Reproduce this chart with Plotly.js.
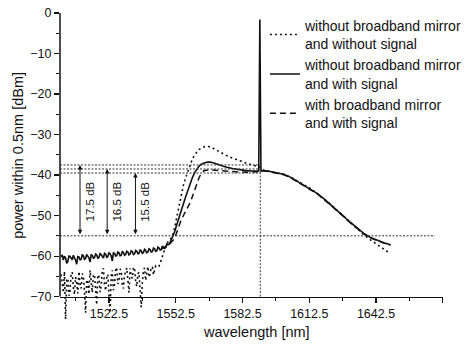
<!DOCTYPE html>
<html>
<head>
<meta charset="utf-8">
<script src="https://cdn.plot.ly/plotly-3.0.1.min.js"></script>
<style>html,body{margin:0;padding:0;background:#fff;}#chart{width:475px;height:345px;}</style>
</head>
<body>
<div id="chart"></div>
<script>
// ---- data ----
const seriesNames = [
  "without broadband mirror<br>and without signal",
  "without broadband mirror<br>and with signal",
  "with broadband mirror<br>and with signal"
];

// dotted: without mirror, without signal
const wlNoSignal = [
  1501,1501.5,1502,1502.5,1503,1503.5,1504,1504.5,1505,1505.5,
  1506,1506.5,1507,1507.5,1508,1508.5,1509,1509.5,1510,1510.5,
  1511,1511.5,1512,1512.5,1513,1513.5,1514,1514.5,1515,1515.5,
  1516,1516.5,1517,1517.5,1518,1518.5,1519,1519.5,1520,1520.5,
  1521,1521.5,1522,1522.5,1523,1523.5,1524,1524.5,1525,1525.5,
  1526,1526.5,1527,1527.5,1528,1528.5,1529,1529.5,1530,1530.5,
  1531,1531.5,1532,1532.5,1533,1533.5,1534,1534.5,1535,1535.5,
  1536,1536.5,1537,1537.5,1538,1538.5,1539,1539.5,1540,1540.5,
  1541,1541.5,1542,1542.5,1543,1543.5,1544,
  1545,1546,1547,1548,1549,1550,1551,1552,1553,1554,1555,1556,1557,1558,1559,1560,1561,1562,1563,1564,1566,1568,1570,1572,
  1575,1578,1581,1584,1587,1590,1592,1595,1598,1601,1604,1607,1610,1613,1616,1619,1622,1625,1628,1631,1634,1637,1640,1643,1646,1649];
const pNoSignal = [
  -64.5,-67.5,-69.0,-63.8,-75.6,-66.0,-65.5,-69.8,-68.5,-64.2,
  -64.0,-67.8,-69.5,-65.2,-66.5,-69.2,-63.8,-66.8,-68.0,-64.3,
  -65.0,-68.6,-74.0,-65.8,-66.5,-69.4,-63.5,-66.2,-69.0,-64.8,
  -64.5,-68.2,-72.0,-64.6,-65.0,-68.9,-67.5,-63.6,-63.0,-67.0,
  -68.5,-65.3,-64.5,-69.6,-74.0,-64.9,-63.5,-68.4,-67.0,-63.4,
  -62.8,-66.9,-66.0,-63.2,-63.5,-67.3,-68.0,-64.6,-64.0,-62.9,
  -66.5,-69.0,-63.0,-65.0,-65.5,-63.0,-62.8,-66.4,-67.5,-64.4,
  -64.0,-68.5,-72.6,-66.5,-63.5,-62.9,-66.0,-64.2,-62.6,-65.2,
  -64.5,-62.7,-62.8,-64.6,-63.5,-62.4,-62.6,
  -62.5,-61.0,-59.3,-57.6,-56.5,-55.7,-55.2,-53.0,-50.3,-47.3,-44.4,-42.4,-40.6,-39.0,-37.3,-36.0,-35.0,-34.3,-33.7,-33.3,-32.9,-33.0,-33.6,-34.3,
  -35.1,-35.8,-36.5,-37.0,-37.5,-38.0,-38.8,-39.1,-39.4,-39.8,-40.5,-41.4,-42.3,-43.3,-44.5,-45.8,-47.2,-48.7,-50.2,-51.8,-53.3,-54.7,-56.0,-57.2,-58.3,-59.4];

// solid: without mirror, with signal
const wlSignal = [
  1501,1501.5,1502,1502.5,1503,1503.5,1504,1504.5,1505,1505.5,
  1506,1506.5,1507,1507.5,1508,1508.5,1509,1509.5,1510,1510.5,
  1511,1511.5,1512,1512.5,1513,1513.5,1514,1514.5,1515,1515.5,
  1516,1516.5,1517,1517.5,1518,1518.5,1519,1519.5,1520,1520.5,
  1521,1521.5,1522,1522.5,1523,1523.5,1524,1524.5,1525,1525.5,
  1526,1526.5,1527,1527.5,1528,1528.5,1529,1529.5,1530,1530.5,
  1531,1531.5,1532,1532.5,1533,1533.5,1534,1534.5,1535,1535.5,
  1536,1536.5,1537,1537.5,1538,1538.5,1539,1539.5,1540,1540.5,
  1541,1541.5,1542,1542.5,1543,1543.5,1544,1544.5,1545,1545.5,
  1546,1546.5,1547,1547.5,1548,1548.5,1549,1549.5,1550,
  1551,1552,1553,1554,1555,1556,1557,1558,1559,1560,1561,1562,1563,1564,1565,1566,1567,1568,1570,1572,
  1575,1578,1581,1584,1587,1589.8,1590.3,1590.8,1592,1595,1598,1601,1604,1607,1610,1613,1616,1619,1622,1625,1628,1631,1634,1637,1640,1643,1646,1649];
const pSignal = [
  -60.2,-59.7,-61.0,-60.0,-60.4,-61.8,-61.3,-60.0,-60.1,-60.7,
  -60.9,-59.8,-60.3,-61.0,-62.0,-60.1,-60.2,-60.9,-60.8,-59.7,
  -59.9,-60.8,-60.6,-59.6,-60.0,-60.4,-61.5,-59.7,-59.8,-60.5,
  -60.4,-59.5,-59.7,-60.6,-60.3,-59.4,-59.6,-60.2,-60.5,-59.3,
  -59.5,-60.3,-60.1,-59.2,-59.4,-60.0,-61.2,-59.2,-59.3,-60.0,
  -59.9,-59.0,-59.2,-59.9,-59.8,-58.9,-59.1,-59.8,-59.6,-58.8,
  -59.0,-59.7,-59.5,-58.7,-58.9,-59.6,-59.4,-58.6,-58.8,-59.4,
  -59.3,-58.5,-58.7,-59.3,-59.1,-58.3,-58.6,-59.2,-59.0,-58.2,
  -58.4,-59.0,-58.9,-58.0,-58.2,-58.8,-58.7,-57.8,-58.0,-58.5,
  -58.4,-57.5,-57.7,-58.1,-57.9,-57.0,-57.2,-57.1,-56.6,
  -55.5,-54.0,-52.2,-50.3,-48.6,-47.0,-45.3,-43.6,-42.0,-40.6,-39.4,-38.5,-37.8,-37.3,-37.0,-36.9,-36.8,-36.8,-37.1,-37.5,
  -38.0,-38.4,-38.7,-38.9,-39.0,-39.0,-1.6,-39.0,-38.9,-39.1,-39.5,-39.8,-40.5,-41.5,-42.3,-43.3,-44.5,-45.8,-47.2,-48.7,-50.2,-51.7,-53.1,-54.4,-55.4,-56.1,-56.7,-57.2];

// dashed: with mirror, with signal
const wlMirror = [1546,1547,1548,1549,1550,1551,1552,1553,1554,1555,1556,1557,1558,1559,1560,1561,1562,1563,1564,1565,1566,1568,1572,1576,1580,1584,1588,1590,
  1592,1595,1598,1601,1604,1607,1610,1613,1616,1619,1622,1625,1628,1631,1634,1637,1640,1643,1646,1649];
const pMirror = [-58.3,-57.9,-57.7,-57.4,-56.9,-56.3,-55.6,-54.3,-52.6,-51.0,-50.0,-49.0,-48.0,-46.8,-45.3,-43.7,-42.1,-40.6,-39.6,-39.0,-38.8,-38.7,-38.9,-39.1,-39.2,-39.3,-39.3,-39.2,
  -38.9,-39.2,-39.6,-39.9,-40.6,-41.6,-42.4,-43.4,-44.6,-45.9,-47.3,-48.8,-50.3,-51.8,-53.2,-54.5,-55.5,-56.2,-56.8,-57.3];

// annotation values
const floorLevel = -55;               // dBm
const gainDiffs = [17.5, 16.5, 15.5]; // dB
const signalWl = 1590.5;              // nm

// axis ticks
const xTickVals = [1522.5, 1552.5, 1582.5, 1612.5, 1642.5, 1672.5];
const xTickText = ["1522.5", "1552.5", "1582.5", "1612.5", "1642.5", ""];
const xMinorVals = [1507.5, 1537.5, 1567.5, 1597.5, 1627.5, 1657.5];
const yTickVals = [0, -10, -20, -30, -40, -50, -60, -70];
const yMinorVals = [-5, -15, -25, -35, -45, -55, -65];

// ---- layout / styling ----
const FONT = "Liberation Sans, Arial, Helvetica, sans-serif";
const INK = "#111";
const yMin = -77.5, yAxisBottom = -70;
const arrowX = [1509.5, 1521.7, 1534.4];

const traces = [
  {x: wlNoSignal, y: pNoSignal, name: seriesNames[0], mode: "lines",
   line: {color: INK, width: 1.6, dash: "2px,3px"}},
  {x: wlSignal, y: pSignal, name: seriesNames[1], mode: "lines",
   line: {color: INK, width: 1.6}},
  {x: wlMirror, y: pMirror, name: seriesNames[2], mode: "lines",
   line: {color: INK, width: 1.5, dash: "6px,4px"}}
];

const shapes = [];
shapes.push({type: "line", xref: "paper", yref: "y", x0: 0, x1: 0, y0: yAxisBottom, y1: 0,
  line: {color: INK, width: 1.5}});
shapes.push({type: "line", xref: "x", yref: "y", x0: 1500.5, x1: 1669, y0: floorLevel, y1: floorLevel,
  line: {color: "#333", width: 1, dash: "2px,1.5px"}});
gainDiffs.forEach(d => {
  shapes.push({type: "line", xref: "x", yref: "y", x0: 1500.5, x1: signalWl, y0: floorLevel + d, y1: floorLevel + d,
    line: {color: "#333", width: 1, dash: "2px,1.5px"}});
});
shapes.push({type: "line", xref: "x", yref: "y", x0: signalWl, x1: signalWl, y0: yAxisBottom, y1: -38,
  line: {color: "#333", width: 1, dash: "2px,1.5px"}});

const annotations = [];
gainDiffs.forEach((d, i) => {
  annotations.push({x: arrowX[i], y: floorLevel + d, ax: arrowX[i], ay: floorLevel,
    xref: "x", yref: "y", axref: "x", ayref: "y", text: "", showarrow: true,
    arrowhead: 2, arrowside: "end+start", arrowsize: 0.9, arrowwidth: 1, arrowcolor: INK, standoff: 0, startstandoff: 0});
  annotations.push({x: arrowX[i] + 4.3, y: -46.6, xref: "x", yref: "y", text: d.toFixed(1) + " dB",
    showarrow: false, textangle: -90, font: {family: FONT, size: 11.5, color: INK}});
});
annotations.push({xref: "paper", yref: "paper", x: 0.512, y: -0.016, xanchor: "center", yanchor: "middle",
  text: "wavelength [nm]", showarrow: false, font: {family: FONT, size: 14.5, color: INK}});
annotations.push({xref: "paper", yref: "paper", x: -0.11, y: 0.548, xanchor: "center", yanchor: "middle",
  text: "power within 0.5nm [dBm]", textangle: -90, showarrow: false, font: {family: FONT, size: 14.5, color: INK}});

const layout = {
  width: 475, height: 345,
  margin: {l: 60, r: 32, t: 13, b: 18, pad: 0, autoexpand: false},
  paper_bgcolor: "#fff", plot_bgcolor: "#fff",
  font: {family: FONT, size: 12.5, color: INK},
  showlegend: true,
  legend: {x: 0.535, y: 1.01, xanchor: "left", yanchor: "top", bgcolor: "rgba(0,0,0,0)",
    font: {family: FONT, size: 14, color: INK}, tracegroupgap: 0},
  xaxis: {range: [1500.5, 1672.6], anchor: "free", position: (yAxisBottom - yMin) / (0 - yMin),
    showline: true, linecolor: INK, linewidth: 1.5, showgrid: false, zeroline: false,
    tickmode: "array", tickvals: xTickVals, ticktext: xTickText,
    ticks: "outside", ticklen: 5, tickwidth: 1.2, tickcolor: INK,
    minor: {tickvals: xMinorVals, ticks: "outside", ticklen: 3, tickwidth: 1, tickcolor: INK},
    tickfont: {family: FONT, size: 12.5, color: INK}},
  yaxis: {range: [yMin, 0], showline: false, showgrid: false, zeroline: false,
    tickmode: "array", tickvals: yTickVals,
    ticks: "outside", ticklen: 5, tickwidth: 1.2, tickcolor: INK,
    minor: {tickvals: yMinorVals, ticks: "outside", ticklen: 3, tickwidth: 1, tickcolor: INK},
    tickfont: {family: FONT, size: 12.5, color: INK}},
  shapes: shapes,
  annotations: annotations
};

Plotly.newPlot("chart", traces, layout, {displayModeBar: false, staticPlot: true});
</script>
</body>
</html>
